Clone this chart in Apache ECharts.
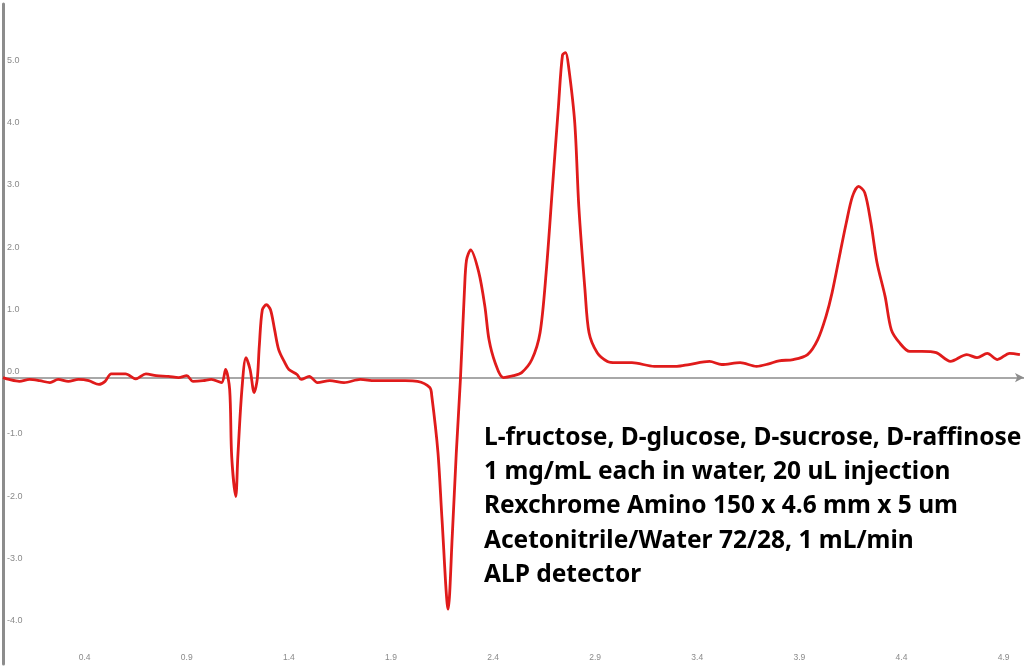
<!DOCTYPE html>
<html>
<head>
<meta charset="utf-8">
<title>Sugar separation chromatogram</title>
<script src="https://cdn.jsdelivr.net/npm/echarts@6/dist/echarts.min.js"></script>
<style>
  html, body { margin: 0; padding: 0; background: #fff; }
  #chart { width: 1024px; height: 667px; }
</style>
</head>
<body>
<div id="chart"></div>
<script>
// == Data ====================================================================

// retention time (min)
const times = [
  0.00, 0.03, 0.08, 0.13, 0.18, 0.23, 0.27, 0.32, 0.37, 0.42,
  0.47, 0.50, 0.53, 0.60, 0.65, 0.70, 0.75, 0.81, 0.86, 0.90,
  0.93, 0.98, 1.02, 1.07, 1.09, 1.11, 1.12, 1.14, 1.15, 1.17,
  1.19, 1.21, 1.23, 1.245, 1.255, 1.27, 1.29, 1.31, 1.33, 1.35,
  1.38, 1.40, 1.44, 1.46, 1.50, 1.54, 1.60, 1.67, 1.75, 1.82,
  1.89, 1.97, 2.03, 2.09, 2.10, 2.13, 2.15, 2.18, 2.20, 2.22,
  2.24, 2.26, 2.27, 2.29, 2.33, 2.36, 2.38, 2.41, 2.45, 2.50,
  2.54, 2.59, 2.63, 2.66, 2.69, 2.72, 2.74, 2.755, 2.77, 2.80,
  2.82, 2.85, 2.87, 2.91, 2.96, 3.00, 3.08, 3.19, 3.30, 3.36,
  3.46, 3.52, 3.61, 3.69, 3.75, 3.80, 3.87, 3.94, 3.99, 4.03,
  4.06, 4.10, 4.13, 4.16, 4.19, 4.22, 4.25, 4.28, 4.32, 4.35,
  4.39, 4.44, 4.50, 4.57, 4.64, 4.72, 4.77, 4.82, 4.87, 4.93,
  4.98
]

// detector response
const signal = [
  0.00, -0.03, -0.06, -0.03, -0.05, -0.08, -0.03, -0.06, -0.03, -0.05,
  -0.11, -0.06, 0.06, 0.06, -0.02, 0.06, 0.03, 0.02, 0.00, 0.03,
  -0.06, -0.05, -0.03, -0.08, 0.13, -0.19, -1.27, -1.91, -1.27, -0.19,
  0.32, 0.13, -0.24, -0.03, 0.50, 1.09, 1.17, 1.09, 0.77, 0.45,
  0.24, 0.13, 0.05, -0.03, 0.02, -0.08, -0.05, -0.08, -0.03, -0.05,
  -0.05, -0.05, -0.06, -0.16, -0.30, -1.20, -2.28, -3.72, -2.55, -1.20,
  -0.03, 1.41, 1.89, 2.05, 1.69, 1.14, 0.61, 0.24, 0.00, 0.03,
  0.08, 0.29, 0.72, 1.69, 3.02, 4.35, 5.18, 5.22, 4.99, 4.09,
  2.74, 1.41, 0.72, 0.40, 0.26, 0.24, 0.24, 0.18, 0.18, 0.21,
  0.26, 0.21, 0.24, 0.18, 0.22, 0.27, 0.29, 0.37, 0.61, 0.98,
  1.36, 2.01, 2.49, 2.91, 3.07, 2.97, 2.49, 1.85, 1.30, 0.77,
  0.56, 0.42, 0.42, 0.40, 0.26, 0.37, 0.32, 0.39, 0.29, 0.39,
  0.37
]

const xTicks = [0.4, 0.9, 1.4, 1.9, 2.4, 2.9, 3.4, 3.9, 4.4, 4.9]
const yTicks = [-4, -3, -2, -1, 0, 1, 2, 3, 4, 5, 6]

const notes = [
  'L-fructose, D-glucose, D-sucrose, D-raffinose',
  '1 mg/mL each in water, 20 uL injection',
  'Rexchrome Amino 150 x 4.6 mm x 5 um',
  'Acetonitrile/Water 72/28, 1 mL/min',
  'ALP detector'
]

// == Chart ===================================================================

const isTick = (list, v) => list.some(t => Math.abs(t - v) < 1e-6)
const axisGrey = '#8c8c8c'
const labelGrey = '#8a8a8a'

const option = {
  animation: false,
  backgroundColor: '#fff',
  // keep the grid where it is put, labels may run off the edge
  grid: {left: 3, right: 0, top: 4, height: 660, containLabel: false, outerBoundsMode: 'none'},
  title: {
    text: notes.join('\n'),
    left: 484,
    top: 421,
    padding: 0,
    textStyle: {
      fontFamily: 'Noto Sans',
      fontWeight: 'bold',
      fontSize: 24.5,
      lineHeight: 34.2,
      color: '#000'
    }
  },
  xAxis: [
    {
      // baseline with arrow
      type: 'value',
      min: 0,
      max: 5,
      axisLine: {
        onZero: true,
        symbol: ['none', 'arrow'],
        symbolSize: [7, 9],
        lineStyle: {color: axisGrey, width: 1.5}
      },
      axisTick: {show: false},
      axisLabel: {show: false},
      splitLine: {show: false}
    },
    {
      // tick labels along the bottom edge
      type: 'value',
      min: 0,
      max: 5,
      interval: 0.1,
      position: 'bottom',
      axisLine: {show: false, onZero: false},
      axisTick: {show: false},
      splitLine: {show: false},
      axisLabel: {
        inside: true,
        margin: 2,
        fontSize: 8.5,
        color: labelGrey,
        formatter: v => isTick(xTicks, v) ? v.toFixed(1) : ''
      }
    }
  ],
  yAxis: {
    type: 'value',
    min: -4.6,
    max: 6.0,
    interval: 0.1,
    axisLine: {show: true, onZero: false, lineStyle: {color: axisGrey, width: 3}},
    axisTick: {show: false},
    splitLine: {show: false},
    axisLabel: {
      inside: true,
      margin: 4,
      fontSize: 9,
      color: labelGrey,
      verticalAlign: 'bottom',
      lineHeight: 12,
      formatter: v => isTick(yTicks, v) ? v.toFixed(1) : ''
    }
  },
  series: [{
    type: 'line',
    xAxisIndex: 0,
    data: times.map((t, i) => [t, signal[i]]),
    showSymbol: false,
    smooth: 0.3,
    lineStyle: {color: '#e01b1b', width: 2.8}
  }]
}

echarts.init(document.getElementById('chart')).setOption(option)
</script>
</body>
</html>
